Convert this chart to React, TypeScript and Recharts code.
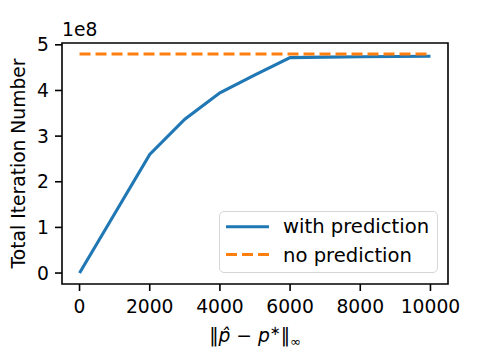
import React from 'react';
import { LineChart, Line, XAxis, YAxis, ReferenceArea, Legend } from 'recharts';

// values in units of 1e8
const xValues = [0, 1000, 2000, 3000, 4000, 5000, 6000, 7000, 8000, 9000, 10000];
const withPrediction = [0, 1.3, 2.6, 3.37, 3.95, 4.34, 4.72, 4.73, 4.74, 4.745, 4.75];
const noPrediction = [4.8, 4.8, 4.8, 4.8, 4.8, 4.8, 4.8, 4.8, 4.8, 4.8, 4.8];
const xTicks = [0, 2000, 4000, 6000, 8000, 10000];
const yTicks = [0, 1, 2, 3, 4, 5];
const SCALE = 1e8;

const data = xValues.map((x, i) => ({
  x,
  withPred: withPrediction[i] * SCALE,
  noPred: noPrediction[i] * SCALE,
}));

const FONT = '"DejaVu Sans", sans-serif';
const FS = 18.7;
const BLUE = '#1f77b4';
const ORANGE = '#ff7f0e';

const YTitle = (props: any) => {
  const vb = props.viewBox || { x: 0, y: 43, width: 62, height: 241 };
  const cy = vb.y + vb.height / 2;
  return (
    <g fontFamily={FONT} fontSize={FS} fill="#000">
      <text x={18} y={cy} transform={`rotate(-90 18 ${cy})`} textAnchor="middle" dominantBaseline="central">
        Total Iteration Number
      </text>
      <text x={62} y={36} textAnchor="start">1e8</text>
    </g>
  );
};

const XTitle = (props: any) => {
  const vb = props.viewBox || { x: 62, y: 284, width: 386, height: 71 };
  const cx = vb.x + vb.width / 2;
  return (
    <text x={cx} y={342} textAnchor="middle" fontFamily={FONT} fontSize={FS} fill="#000">
      <tspan>‖</tspan>
      <tspan fontStyle="italic">p̂</tspan>
      <tspan> − </tspan>
      <tspan fontStyle="italic">p</tspan>
      <tspan dy={-7} fontSize={13}>∗</tspan>
      <tspan dy={7}>‖</tspan>
      <tspan dy={4} fontSize={13}>∞</tspan>
    </text>
  );
};

const LegendBox = () => (
  <div
    style={{
      position: 'absolute',
      left: 0,
      top: 0,
      width: 219,
      height: 62,
      boxSizing: 'border-box',
      border: '1.5px solid #d6d6d6',
      borderRadius: 5,
      background: 'rgba(255,255,255,0.8)',
    }}
  >
    <svg width={219} height={62} style={{ position: 'absolute', left: -1.5, top: -1.5 }}>
      <line x1={7} x2={50} y1={15.7} y2={15.7} stroke={BLUE} strokeWidth={3.1} />
      <line x1={7} x2={50} y1={43.5} y2={43.5} stroke={ORANGE} strokeWidth={3.1} strokeDasharray="11 5" />
      <text x={64} y={15.7} dominantBaseline="central" fontFamily={FONT} fontSize={19.6} fill="#000">with prediction</text>
      <text x={64} y={44} dominantBaseline="central" fontFamily={FONT} fontSize={19.6} fill="#000">no prediction</text>
    </svg>
  </div>
);

export default function App() {
  return (
    <div style={{ position: 'absolute', left: 0, top: 0, background: '#fff' }}>
      <LineChart width={498} height={355} data={data} margin={{ top: 43, right: 50, left: 0, bottom: 0 }}>
        <XAxis
          dataKey="x"
          type="number"
          domain={[-500, 10500]}
          allowDataOverflow
          ticks={xTicks}
          height={71}
          axisLine={false}
          tickLine={{ stroke: '#000', strokeWidth: 1.6 }}
          tickSize={7}
          tickMargin={9}
          tick={{ fill: '#000', fontFamily: FONT, fontSize: FS }}
          label={<XTitle />}
        />
        <YAxis
          type="number"
          domain={[-0.24 * SCALE, 5.04 * SCALE]}
          allowDataOverflow
          ticks={yTicks.map((t) => t * SCALE)}
          tickFormatter={(v: number) => String(Math.round(v / SCALE))}
          width={62}
          axisLine={false}
          tickLine={{ stroke: '#000', strokeWidth: 1.6 }}
          tickSize={7}
          tickMargin={6}
          tick={{ fill: '#000', fontFamily: FONT, fontSize: FS }}
          label={<YTitle />}
        />
        <ReferenceArea
          x1={-500}
          x2={10500}
          y1={-0.24 * SCALE}
          y2={5.04 * SCALE}
          fill="none"
          stroke="#000"
          strokeWidth={1.6}
        />
        <Line
          type="linear"
          dataKey="withPred"
          name="with prediction"
          stroke={BLUE}
          strokeWidth={3.1}
          dot={false}
          activeDot={false}
          isAnimationActive={false}
        />
        <Line
          type="linear"
          dataKey="noPred"
          name="no prediction"
          stroke={ORANGE}
          strokeWidth={3.1}
          strokeDasharray="11 5"
          dot={false}
          activeDot={false}
          isAnimationActive={false}
        />
        <Legend
          content={<LegendBox />}
          wrapperStyle={{ position: 'absolute', left: 219, top: 211, width: 0, height: 0 }}
        />
      </LineChart>
    </div>
  );
}
